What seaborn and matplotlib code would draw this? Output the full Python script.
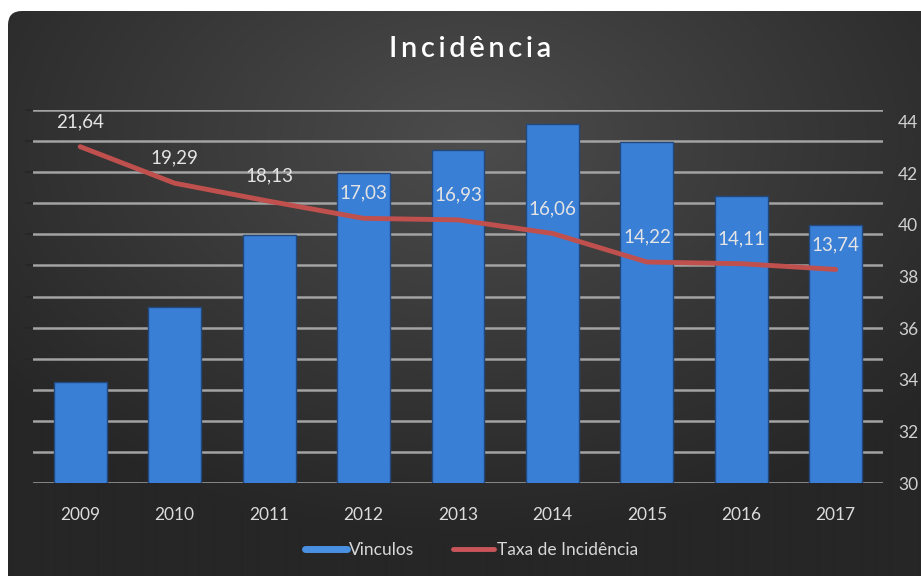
import numpy as np
import pandas as pd
import matplotlib
matplotlib.use("Agg")
import matplotlib.pyplot as plt
from matplotlib.patches import FancyBboxPatch
from matplotlib.lines import Line2D
import seaborn as sns

# ---- data ----
anos = ["2009", "2010", "2011", "2012", "2013", "2014", "2015", "2016", "2017"]
vinculos = [33.9, 36.8, 39.6, 42.0, 42.9, 43.9, 43.2, 41.1, 40.0]
taxa = [21.64, 19.29, 18.13, 17.03, 16.93, 16.06, 14.22, 14.11, 13.74]
ticks_direita = [30, 32, 34, 36, 38, 40, 42, 44]

sns.set_theme(style="dark")
plt.rcParams['font.family'] = ['Lato', 'DejaVu Sans']

W, H = 921, 576
fig = plt.figure(figsize=(W / 100, H / 100), dpi=100)
fig.patch.set_facecolor("white")

# background panel with radial gradient
bg = fig.add_axes([0, 0, 1, 1], zorder=0)
bg.set_xlim(0, W)
bg.set_ylim(H, 0)
bg.axis("off")
yy, xx = np.mgrid[0:H, 0:W]
d = np.sqrt(((xx - 470) / 600.0) ** 2 + ((yy - 140) / 400.0) ** 2)
d = np.clip(d, 0, 1)
c0 = np.array([0x4c, 0x4c, 0x4c]) / 255
c1 = np.array([0x26, 0x26, 0x26]) / 255
img = c0[None, None, :] * (1 - d[..., None]) + c1[None, None, :] * d[..., None]
im = bg.imshow(img, extent=(0, W, H, 0), aspect="auto", interpolation="bilinear")
panel = FancyBboxPatch((8, 11), W + 40, H + 40, boxstyle="round,pad=0,rounding_size=14",
                       transform=bg.transData, facecolor="none", edgecolor="none")
bg.add_patch(panel)
im.set_clip_path(panel)

# axes
left, right = 33 / W, 883 / W
bottom, top = 1 - 483 / H, 1 - 110 / H
ax = fig.add_axes([left, bottom, right - left, top - bottom], zorder=1)
ax.patch.set_visible(False)
ax.set_ylim(0, 24)
ax.set_yticks(np.arange(0, 25, 2))
ax.yaxis.grid(True, color="#a3a3a3", linewidth=1.8)
ax.xaxis.grid(False)
ax.tick_params(axis="y", left=False, labelleft=False)
for s in ax.spines.values():
    s.set_visible(False)

# bars (secondary axis)
axb = ax.twinx()
df = pd.DataFrame({"ano": anos, "vinculos": vinculos, "taxa": taxa})
sns.barplot(data=df, x="ano", y="vinculos", ax=axb, color="#3a7fd6",
            saturation=1, width=0.56, edgecolor="#22497f", linewidth=1.0)
axb.set_ylim(30, 44.44)
axb.set_yticks(ticks_direita)
axb.set_yticklabels([str(t) for t in ticks_direita])
axb.tick_params(axis="y", right=False, labelright=True, colors="#d0d0d0",
                labelsize=12.5, pad=5)
axb.set_xlim(-0.5, 8.5)
axb.set_xlabel("")
axb.set_ylabel("")
axb.grid(False)
for s in axb.spines.values():
    s.set_visible(False)

# line (top layer, same scale as primary)
axl = ax.twinx()
sns.lineplot(data=df, x="ano", y="taxa", ax=axl, color="#c0504d", linewidth=3.5,
             sort=False, solid_capstyle="round", solid_joinstyle="round")
axl.set_ylim(0, 24)
axl.set_xlim(-0.5, 8.5)
axl.set_yticks([])
axl.set_xlabel("")
axl.set_ylabel("")
axl.grid(False)
for s in axl.spines.values():
    s.set_visible(False)
if axl.get_legend():
    axl.get_legend().remove()
for i, v in enumerate(taxa):
    axl.annotate(f"{v:.2f}".replace(".", ","), xy=(i, v), xytext=(0, 18),
                 textcoords="offset points", ha="center", va="center",
                 color="#e4e4e4", fontsize=13.5)

ax.set_xlim(-0.5, 8.5)
ax.set_xticks(range(len(anos)))
ax.set_xticklabels(anos)
ax.tick_params(axis="x", bottom=False, colors="#dcdcdc", labelsize=12.5, pad=11)
axb.tick_params(axis="x", bottom=False, labelbottom=False)
axl.tick_params(axis="x", bottom=False, labelbottom=False)

# title
fig.text(0.51, 1 - 49 / H, "I n c i d ê n c i a".replace(" ", "\u2009"), ha="center",
         va="center", color="white", fontsize=21, fontweight="semibold")

# legend
handles = [Line2D([0], [0], color="#4a90e2", linewidth=5),
           Line2D([0], [0], color="#c9555a", linewidth=3.5)]
leg = fig.legend(handles, ["Vinculos", "Taxa de Incidência"], loc="center",
                 bbox_to_anchor=(0.512, 1 - 550 / H), ncol=2, frameon=False,
                 fontsize=12.5, handlelength=2.4, handletextpad=0.15, columnspacing=2.2)
for t in leg.get_texts():
    t.set_color("#d8d8d8")

fig.savefig("out.png", dpi=100, facecolor=fig.get_facecolor())
